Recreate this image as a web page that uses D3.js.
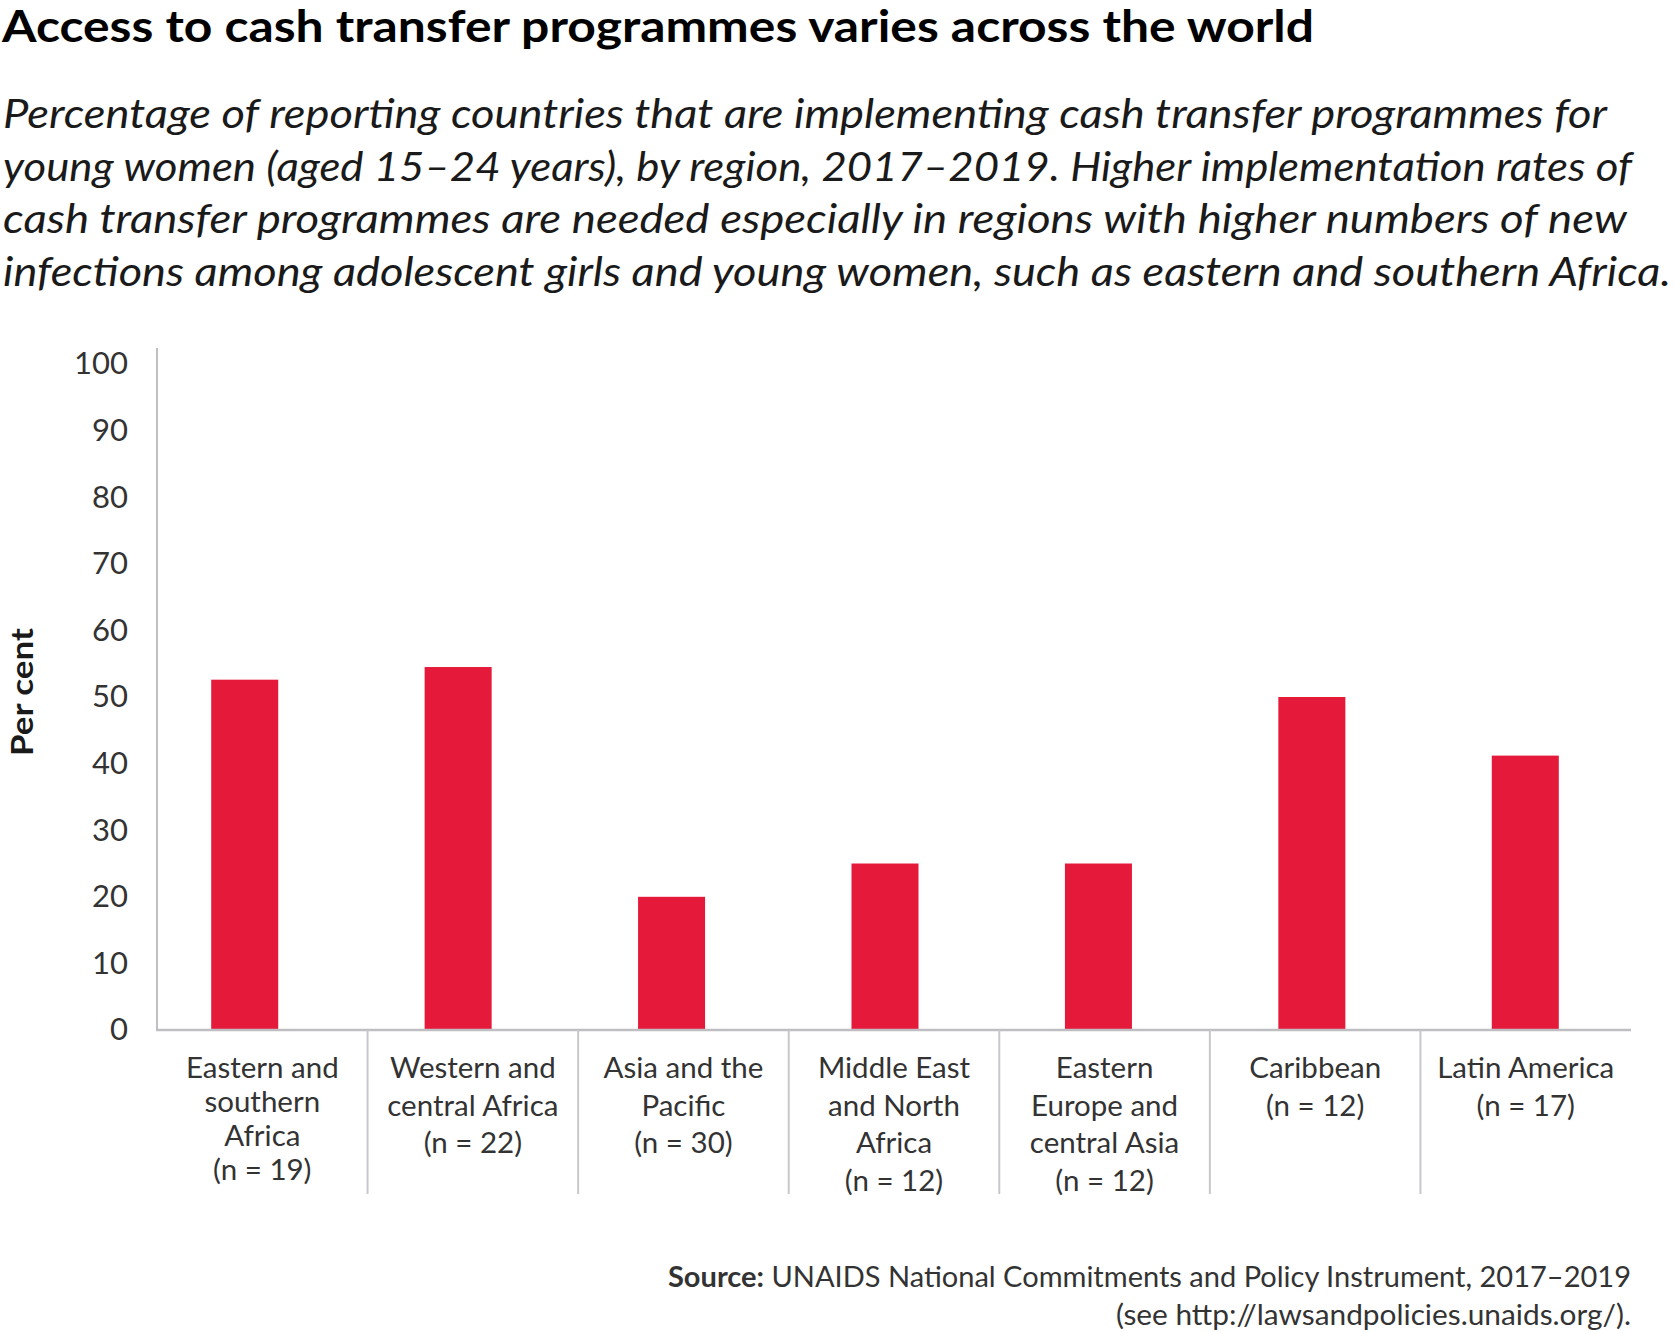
<!DOCTYPE html>
<html>
<head>
<meta charset="utf-8">
<script src="https://cdn.jsdelivr.net/npm/d3@7"></script>
<style>
  body { margin: 0; background: #fff; }
  svg { display: block; font-family: Lato, "Noto Sans", sans-serif; }
</style>
</head>
<body>
<div id="chart"></div>
<script>
// Chart data
const regions = [
  'Eastern and southern Africa',
  'Western and central Africa',
  'Asia and the Pacific',
  'Middle East and North Africa',
  'Eastern Europe and central Asia',
  'Caribbean',
  'Latin America'
];
const labelLines = [
  ['Eastern and', 'southern', 'Africa', '(n = 19)'],
  ['Western and', 'central Africa', '(n = 22)'],
  ['Asia and the', 'Pacific', '(n = 30)'],
  ['Middle East', 'and North', 'Africa', '(n = 12)'],
  ['Eastern', 'Europe and', 'central Asia', '(n = 12)'],
  ['Caribbean', '(n = 12)'],
  ['Latin America', '(n = 17)']
];
const percentValues = [52.6, 54.5, 20, 25, 25, 50, 41.2];
const yTicks = [0, 10, 20, 30, 40, 50, 60, 70, 80, 90, 100];

const titleText = 'Access to cash transfer programmes varies across the world';
const subtitleLines = [
  'Percentage of reporting countries that are implementing cash transfer programmes for',
  'young women (aged 15\u201324 years), by region, 2017\u20132019. Higher implementation rates of',
  'cash transfer programmes are needed especially in regions with higher numbers of new',
  'infections among adolescent girls and young women, such as eastern and southern Africa.'
];
// rendered widths of the subtitle lines in the reference
const subtitleWidths = [1604, 1629, 1624, 1668];
const sourceBold = 'Source:';
const sourceLines = [
  ' UNAIDS National Commitments and Policy Instrument, 2017\u20132019',
  '(see http://lawsandpolicies.unaids.org/).'
];

const width = 1675;
const height = 1332;
const plot = { left: 157, right: 1631, top: 364, bottom: 1030 };

const svg = d3.select('#chart')
  .append('svg')
  .attr('width', width)
  .attr('height', height);

svg.append('rect').attr('width', width).attr('height', height).attr('fill', '#fff');

// Title + subtitle
svg.append('text')
  .attr('x', 2)
  .attr('y', 42)
  .attr('font-size', 43)
  .attr('font-weight', 700)
  .attr('fill', '#000')
  .attr('textLength', 1312)
  .attr('lengthAdjust', 'spacingAndGlyphs')
  .text(titleText);

svg.append('g')
  .selectAll('text')
  .data(subtitleLines)
  .join('text')
  .attr('x', 3)
  .attr('y', (d, i) => 128 + i * 52.5)
  .attr('font-size', 41)
  .attr('font-style', 'italic')
  .attr('fill', '#1a1a1a')
  .attr('textLength', (d, i) => subtitleWidths[i])
  .attr('lengthAdjust', 'spacingAndGlyphs')
  .text((d) => d);

// Scales
const yScale = d3.scaleLinear().domain([0, 100]).range([plot.bottom, plot.top]);
const xAxisScale = d3.scaleBand().domain(regions).range([plot.left, plot.right]);
// bars sit on a slightly wider pitch than the category cells
const xBar = d3.scaleBand().domain(regions).range([138, 1632])
  .paddingInner(0.686).paddingOuter(0.343);

// Y axis labels
const yAxis = d3.axisLeft(yScale).tickValues(yTicks).tickSize(0).tickPadding(0);
const yG = svg.append('g')
  .attr('transform', `translate(128, 0)`)
  .call(yAxis);
yG.select('.domain').remove();
yG.selectAll('text')
  .attr('font-family', 'Lato, sans-serif')
  .attr('font-size', 31)
  .attr('fill', '#333');

// Y axis line
svg.append('line')
  .attr('x1', plot.left).attr('x2', plot.left)
  .attr('y1', yScale(0)).attr('y2', yScale(100) - 16)
  .attr('stroke', '#bfbfc3')
  .attr('stroke-width', 2);

svg.append('text')
  .attr('transform', `translate(33, 692) rotate(-90)`)
  .attr('text-anchor', 'middle')
  .attr('font-size', 31)
  .attr('font-weight', 700)
  .attr('fill', '#1a1a1a')
  .attr('textLength', 128)
  .attr('lengthAdjust', 'spacingAndGlyphs')
  .text('Per cent');

// Bars
svg.append('g')
  .selectAll('rect')
  .data(regions)
  .join('rect')
  .attr('x', (d) => xBar(d))
  .attr('width', xBar.bandwidth())
  .attr('y', (d, i) => yScale(percentValues[i]))
  .attr('height', (d, i) => yScale(0) - yScale(percentValues[i]))
  .attr('fill', '#e5193a');

// X axis line + separators
svg.append('line')
  .attr('x1', plot.left - 1).attr('x2', plot.right)
  .attr('y1', yScale(0)).attr('y2', yScale(0))
  .attr('stroke', '#bfbfc3')
  .attr('stroke-width', 2.5);

svg.append('g')
  .selectAll('line')
  .data(regions.slice(1))
  .join('line')
  .attr('x1', (d) => xAxisScale(d)).attr('x2', (d) => xAxisScale(d))
  .attr('y1', yScale(0)).attr('y2', 1194)
  .attr('stroke', '#c8c8cc')
  .attr('stroke-width', 2);

// Category labels
const labels = svg.append('g')
  .selectAll('text')
  .data(regions)
  .join('text')
  .attr('text-anchor', 'middle')
  .attr('font-size', 29.5)
  .attr('fill', '#333');

labels.each(function (d, i) {
  const cx = xAxisScale(d) + xAxisScale.bandwidth() / 2;
  const step = i === 0 ? 34 : 37.7;
  d3.select(this)
    .selectAll('tspan')
    .data(labelLines[i])
    .join('tspan')
    .attr('x', cx)
    .attr('y', (t, j) => 1078 + j * step)
    .text((t) => t);
});

// Source
const src = svg.append('text')
  .attr('x', plot.right)
  .attr('y', 1287)
  .attr('text-anchor', 'end')
  .attr('font-size', 29)
  .attr('fill', '#333')
  .attr('textLength', 963)
  .attr('lengthAdjust', 'spacingAndGlyphs');
src.append('tspan').attr('font-weight', 700).text(sourceBold);
src.append('tspan').text(sourceLines[0]);

svg.append('text')
  .attr('x', plot.right)
  .attr('y', 1325)
  .attr('text-anchor', 'end')
  .attr('font-size', 29)
  .attr('fill', '#333')
  .attr('textLength', 515)
  .attr('lengthAdjust', 'spacingAndGlyphs')
  .text(sourceLines[1]);
</script>
</body>
</html>
